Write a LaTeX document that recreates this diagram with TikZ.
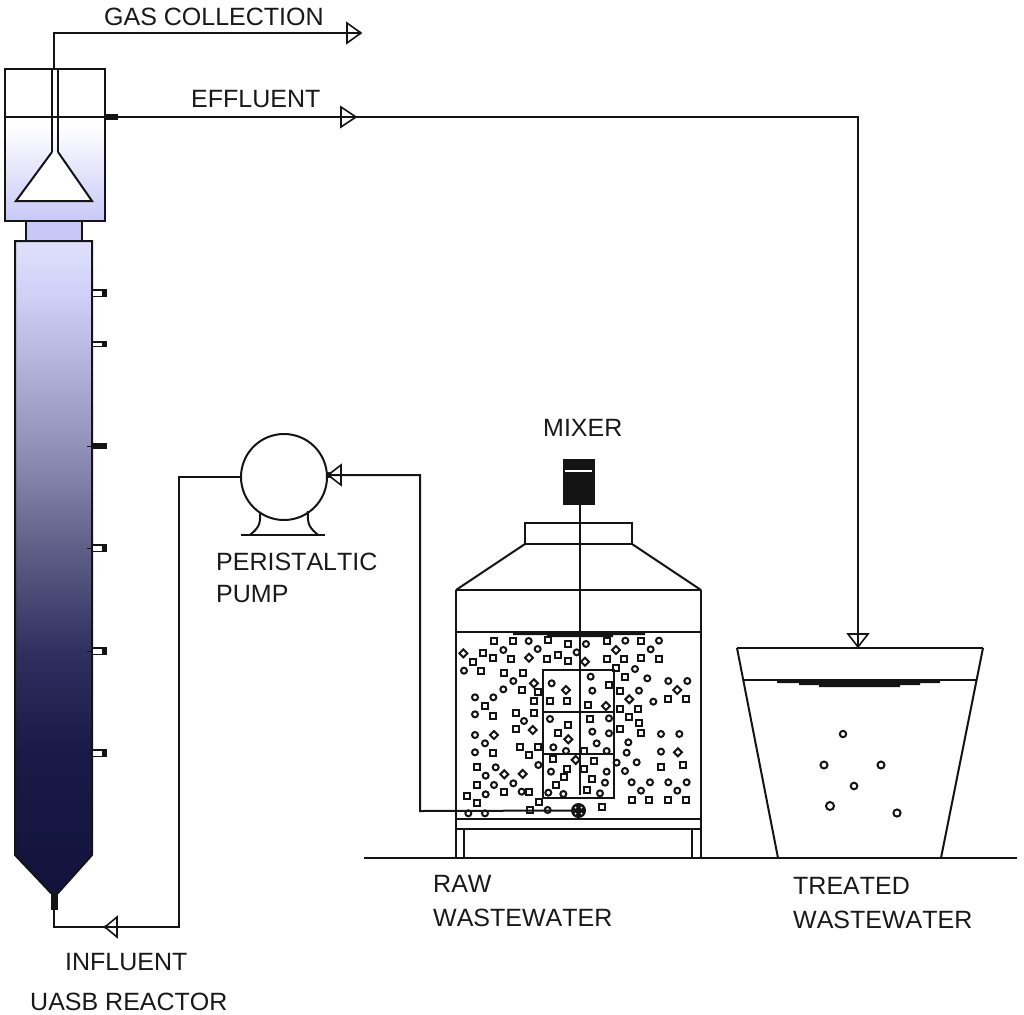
\documentclass[tikz,border=0pt]{standalone}
\usepackage{fontspec}
\setmainfont[Kerning=Off]{Liberation Sans}
\usetikzlibrary{arrows, positioning}
\definecolor{lav}{RGB}{200,200,248}
\definecolor{ink}{RGB}{20,20,20}
\definecolor{cola}{RGB}{18,18,60}
\definecolor{colb}{RGB}{26,26,72}
\definecolor{colc}{RGB}{48,48,96}
\definecolor{cold}{RGB}{95,95,136}
\definecolor{cole}{RGB}{143,143,184}
\definecolor{colf}{RGB}{184,184,224}
\definecolor{colg}{RGB}{208,208,248}
\definecolor{colh}{RGB}{224,224,252}
\pgfdeclareverticalshading{uasbcol}{100bp}{color(0bp)=(cola);
 color(25bp)=(cola);
 color(36bp)=(colb);
 color(43.5bp)=(colc);
 color(51.5bp)=(cold);
 color(59bp)=(cole);
 color(66.5bp)=(colf);
 color(71bp)=(colg);
 color(75bp)=(colh);
 color(100bp)=(colh)}
\tikzset{
 pipe/.style={draw=ink,line width=2pt},
 valve/.style={draw=ink,line width=1.6pt,line join=miter},
 lbl/.style={anchor=base west,inner sep=0pt,text=black!90,font=\fontsize{25}{28}\selectfont},
 particle/.style={draw=ink,line width=2pt}
}
\begin{document}
\begin{tikzpicture}[x=1pt,y=-1pt]
\useasboundingbox (0,0) rectangle (1024,1014);

% reactor
\shade[top color=white,bottom color=lav,middle color=lav!50] (5,125) rectangle (105,221);
\draw[pipe] (5,69) rectangle (105,221);
\draw[pipe,line width=1.6pt] (5,117)--(105,117);
\draw[pipe,fill=lav] (26,221) rectangle (82,241);
\path[shading=uasbcol] (15,241)--(92,241)--(92,855)--(58,893)--(51,893)--(15,855)--cycle;
\draw[pipe] (15,241)--(92,241)--(92,855)--(58,893)--(51,893)--(15,855)--cycle;
\fill[ink] (51,892) rectangle (58,910);
\draw[pipe,fill=white] (52,152)--(16,201)--(92,201)--(58,152);
\draw[pipe,line width=1.6pt] (52,69)--(52,152) (58,69)--(58,152);
\fill[ink] (105,114) rectangle (118,120);
\foreach \y/\h in {293/4,344/3,548/4,651/4,753/4}
{
\fill[ink] (92,\y-\h) rectangle (107,\y+\h);
\fill[white] (93,\y-\h+1.5) rectangle (102,\y+\h-1.5);
}
\fill[ink] (92,443) rectangle (107,449);
\foreach \y in {446,548,651,753}
\draw[ink,line width=1pt] (87,\y)--(92,\y);

% pump
\node[draw=ink,line width=2pt,circle,minimum size=86pt,inner sep=0pt] (pump) at (284,477) {};
\draw[pipe] (241,535)--(325,535);
\draw[pipe] (260,512) .. controls (261,525) and (258,528) .. (250,535);
\draw[pipe] (308,511) .. controls (307,525) and (310,528) .. (318,535);

% tank
\coordinate (gasout) at (54,69);
\coordinate (gastip) at (361,33);
\coordinate (effout) at (118,117);
\coordinate (treatin) at (858,647);
\coordinate (feed) at (54,910);
\coordinate (pumpin) at (328,475);
\node[draw=ink,fill=ink,minimum width=31pt,minimum height=45pt,inner sep=0pt] (mixer) at (578.5,481.5) {};
\draw[white,line width=1.4pt] (565,471)--(592,471);
\draw[pipe] (456,590)--(456,858) (701,590)--(701,858);
\draw[pipe] (456,590)--(701,590) (456,632)--(701,632);
\draw[pipe] (456,590)--(525,544) (632,544)--(701,590);
\draw[pipe] (525,523) rectangle (632,544);
\fill[ink] (513,631) rectangle (645,635) (547,634) rectangle (613,637);
\draw[pipe] (456,819)--(701,819) (456,829)--(701,829);
\draw[pipe] (464,829)--(464,858) (692,829)--(692,858);
\draw[pipe] (543,670) rectangle (614,798);
\draw[pipe] (543,712)--(614,712) (543,754)--(614,754);
\draw[pipe] (364,858)--(1017,858);
\node[circle,fill=ink,minimum size=15pt,inner sep=0pt] (stirrer) at (578.5,810.5) {};
\foreach \dx/\dy in {-3/-3,3/-3,-3/3,3/3}
\fill[white] (578.5+\dx,810.5+\dy) circle[radius=1pt];
\draw[pipe] (579.5,504)--(579.5,795);

% particles
\begin{scope}[shift={(440,620)},x=.3333pt,y=-.3333pt]
\foreach \px/\py in {162/63,220/63,323/60,385/72,500/62,603/62,128/98,100/127,160/115,214/117,320/117,355/105,385/122,500/117,553/117,603/115,657/117,124/152,192/158,250/158,245/210,293/215,282/242,528/145,555/172,685/237,738/237,135/257,160/287,228/278,283/278,228/328,541/212,541/267,595/267,568/290,597/310,541/328,603/340,160/400,240/380,295/380,268/405,730/435,663/442,110/442,110/495,193/515,268/515,628/540,575/540,685/540,738/540,112/550,82/527,298/545,270/570,487/562,330/243,382/243,445/255,385/315,355/340,507/195,450/297,433/393,462/423,432/448,457/478,442/510,338/418,380/448,373/470,347/495}
\draw[particle] (\px-9,\py-9) rectangle (\px+9,\py+9);
\foreach \px/\py in {266/63,438/72,556/62,657/62,293/87,190/90,410/97,632/88,72/152,585/147,622/175,685/183,742/183,220/183,190/208,105/232,160/232,105/283,252/303,597/212,640/245,105/345,135/370,105/397,295/435,663/342,718/342,663/395,167/442,137/467,162/495,137/523,220/490,245/515,565/367,560/398,530/428,590/427,555/453,575/487,630/487,603/512,685/487,740/487,712/512,85/580,135/580,323/570,335/190,452/170,457/212,330/297,507/295,457/335,507/340,470/370,340/382,378/393,500/393,333/455,325/518,370/522,500/455,495/488,480/520}
\draw[particle] (\px,\py) circle[radius=3pt];
\foreach \px/\py in {70/100,267/113,435/125,528/90,378/210,498/258,712/210,714/397,248/462,162/345,278/330,282/190,568/238,193/463,385/358,407/420}
\draw[particle] (\px-12,\py)--(\px,\py-12)--(\px+12,\py)--(\px,\py+12)--cycle;
\end{scope}

% treated tank
\draw[pipe] (737,648)--(983,648);
\draw[pipe] (737,648)--(778,858) (983,648)--(941,858);
\draw[pipe] (743,680)--(976,680);
\fill[ink] (777,680) rectangle (940,683) (799,682) rectangle (920,685) (819,684) rectangle (900,687);
\foreach \px/\py/\r in {843/734/3.2,824/765/3.5,881/765/3.5,854/786/3.3,830/806/4,897/813/3.6}
\draw[particle] (\px,\py) circle[radius=\r pt];

% pipes
\draw[pipe] (gasout)--(54,33)--(gastip);
\draw[pipe] (effout)--(858,117)--(treatin);
\draw[pipe] (feed)--(54,927)--(179,927)--(179,477)--(pump.west);
\draw[pipe] (pumpin)--(420,475)--(420,811)--(stirrer);
\draw[valve] (361,33)--(347,23)--(347,43)--cycle;
\draw[valve] (356,117)--(341,107)--(341,127)--cycle;
\draw[valve] (105,927)--(117,917)--(117,937)--cycle;
\draw[valve] (328,475)--(341,465)--(341,485)--cycle;
\draw[valve] (858,647)--(848,634)--(868,634)--cycle;
\fill[ink] (359,33) circle[radius=2pt] (106,927) circle[radius=2pt] (329,475) circle[radius=3pt];

% labels
\node[lbl] (gaslabel) at (104,26) {GAS COLLECTION};
\node[lbl] (efflabel) at (191,108) {EFFLUENT};
\node[lbl] (mixlabel) at (543,436) {MIXER};
\node[lbl] (peristaltic) at (216,570) {PERISTALTIC};
\node[lbl] (pumplabel) at (216,602) {PUMP};
\node[lbl] (rawlabel) at (433,892) {RAW};
\node[lbl] (rawwaste) at (433,926) {WASTEWATER};
\node[lbl] (treatlabel) at (793,894) {TREATED};
\node[lbl] (treatwaste) at (793,928) {WASTEWATER};
\node[lbl] (inflabel) at (65,970) {INFLUENT};
\node[lbl] (uasblabel) at (30,1010) {UASB REACTOR};
\end{tikzpicture}
\end{document}
